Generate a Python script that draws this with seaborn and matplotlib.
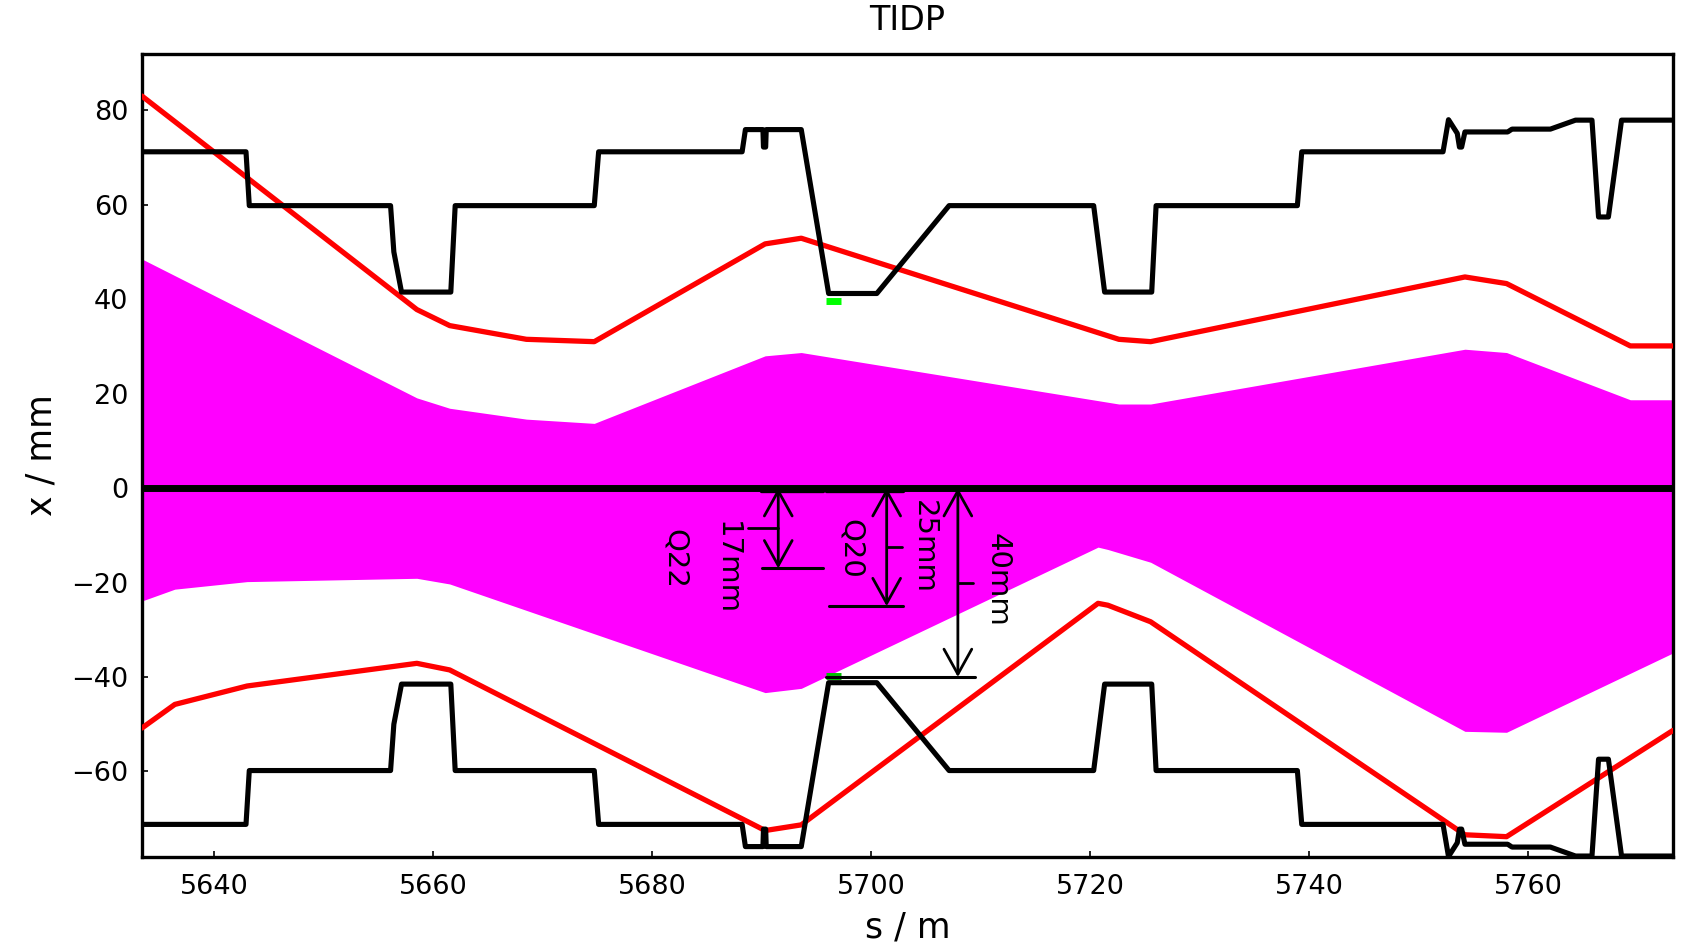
import numpy as np
import matplotlib
matplotlib.use("Agg")
import matplotlib.pyplot as plt
import seaborn as sns

# ---- beam envelope data (s in m, x in mm) ----
# upper side of the beam (red = tolerance envelope, magenta = beam size)
s_upper = [5633.4, 5658.5, 5661.5, 5668.5, 5674.7, 5690.3, 5693.6,
           5722.6, 5725.5, 5754.2, 5758.0, 5769.3, 5773.2]
env_upper = [83.0, 37.8, 34.4, 31.5, 31.0, 51.7, 52.9,
             31.5, 31.0, 44.7, 43.3, 30.1, 30.1]
beam_upper = [48.5, 19.1, 16.9, 14.6, 13.7, 28.0, 28.7,
              17.8, 17.8, 29.4, 28.7, 18.7, 18.7]

# lower side of the beam
s_lower = [5633.4, 5636.4, 5643.0, 5658.5, 5661.5, 5690.3, 5693.6,
           5720.7, 5721.6, 5725.5, 5754.2, 5758.0, 5773.2]
env_lower = [-50.8, -45.8, -41.9, -37.1, -38.5, -72.5, -71.3,
             -24.4, -24.8, -28.3, -73.4, -73.8, -51.3]
beam_lower = [-23.9, -21.4, -19.8, -19.1, -20.3, -43.3, -42.4,
              -12.5, -13.0, -15.7, -51.5, -51.7, -34.9]

# ---- mechanical aperture (symmetric chamber, half-width in mm) ----
s_aper = [5633.4, 5642.9, 5643.2, 5656.1, 5656.4, 5657.1, 5661.6, 5662.0,
          5674.7, 5675.1, 5688.2, 5688.5, 5690.1, 5690.15, 5690.35, 5690.4,
          5693.6, 5696.1, 5700.5, 5707.1, 5720.3, 5721.3, 5725.6, 5726.0,
          5738.9, 5739.3, 5752.2, 5752.7, 5753.5, 5753.7, 5753.9, 5754.2,
          5758.1, 5758.5, 5762.0, 5764.3, 5765.8, 5766.4, 5767.3, 5768.5,
          5773.2]
aper = [71.2, 71.2, 59.8, 59.8, 50.0, 41.5, 41.5, 59.8,
        59.8, 71.2, 71.2, 75.9, 75.9, 72.2, 72.2, 75.9,
        75.9, 41.2, 41.2, 59.8, 59.8, 41.5, 41.5, 59.8,
        59.8, 71.2, 71.2, 78.0, 75.1, 72.2, 72.2, 75.4,
        75.4, 76.0, 76.0, 77.9, 77.9, 57.4, 57.4, 77.9,
        77.9]

# ---- collimator jaw markers ----
s_jaw = [5695.9, 5697.2]
jaw_half_gap = 39.7

# ---- dimension annotations ----
gap_values = [17, 25, 40]            # half gaps in mm
gap_labels = ["17mm", "25mm", "40mm"]
quad_labels = ["Q22", "Q20"]

x_ticks = [5640, 5660, 5680, 5700, 5720, 5740, 5760]
y_ticks = [-60, -40, -20, 0, 20, 40, 60, 80]

sns.set_theme(style="ticks", rc={
    "xtick.direction": "in",
    "ytick.direction": "in",
    "axes.linewidth": 2.4,
    "axes.edgecolor": "black",
    "axes.labelcolor": "black",
    "text.color": "black",
    "xtick.color": "black",
    "ytick.color": "black",
    "xtick.major.size": 4.5,
    "ytick.major.size": 4.5,
    "xtick.major.width": 1.2,
    "ytick.major.width": 1.2,
})
plt.rcParams["font.family"] = ["DejaVu Sans"]

fig = plt.figure(figsize=(16.86, 9.46), dpi=100)
ax = fig.add_axes([0.0842, 0.0941, 0.9081, 0.8488])

# beam size (filled)
ax.fill_between(s_upper, 0, beam_upper, color="#ff00ff", linewidth=0, zorder=1)
ax.fill_between(s_lower, beam_lower, 0, color="#ff00ff", linewidth=0, zorder=1)

# tolerance envelopes
sns.lineplot(x=s_upper, y=env_upper, ax=ax, color="#ff0000", lw=3.8,
             estimator=None, sort=False, zorder=3)
sns.lineplot(x=s_lower, y=env_lower, ax=ax, color="#ff0000", lw=3.8,
             estimator=None, sort=False, zorder=3)

# aperture
aper_arr = np.asarray(aper)
sns.lineplot(x=s_aper, y=aper_arr, ax=ax, color="black", lw=3.7,
             estimator=None, sort=False, zorder=4)
sns.lineplot(x=s_aper, y=-aper_arr, ax=ax, color="black", lw=3.7,
             estimator=None, sort=False, zorder=4)

# closed orbit
ax.axhline(0, color="black", lw=5, zorder=5)

# collimator jaws
sns.lineplot(x=s_jaw, y=[jaw_half_gap, jaw_half_gap], ax=ax, color="#00ff00",
             lw=5, estimator=None, sort=False, zorder=3.5,
             solid_capstyle="butt")
sns.lineplot(x=s_jaw, y=[-jaw_half_gap, -jaw_half_gap], ax=ax, color="#00c000",
             lw=5, estimator=None, sort=False, zorder=3.5,
             solid_capstyle="butt")

# dimension arrows
arrow_x = [5691.5, 5701.4, 5707.9]
bar_spans = [(5690.0, 5695.6), (5696.1, 5702.9), (5695.9, 5709.5)]
top_spans = [(5689.9, 5695.6), (5695.9, 5702.9)]
mid_ticks = [(5688.7, 5691.5), (5701.4, 5702.8), (5707.9, 5709.3)]
for xa, g, (b0, b1), (m0, m1) in zip(arrow_x, gap_values, bar_spans, mid_ticks):
    ax.annotate("", xy=(xa, -g), xytext=(xa, 0),
                arrowprops=dict(arrowstyle="<->, head_length=0.9, head_width=0.5",
                                lw=2, color="black", shrinkA=0, shrinkB=0,
                                mutation_scale=20),
                zorder=6)
    ax.plot([b0, b1], [-g, -g], color="black", lw=2.2, zorder=6)
    ax.plot([m0, m1], [-g / 2, -g / 2], color="black", lw=2, zorder=6)
for t0, t1 in top_spans:
    ax.plot([t0, t1], [-0.7, -0.7], color="black", lw=2.4, zorder=6)

gap_text_pos = [(5686.8, -17.0), (5704.8, -12.4), (5711.5, -19.5)]
quad_text_pos = [(5682.1, -14.9), (5698.1, -12.8)]
for (tx, ty), lab in zip(gap_text_pos, gap_labels):
    ax.text(tx, ty, lab, rotation=270, ha="center", va="center",
            fontsize=21, color="black", zorder=7)
for (tx, ty), lab in zip(quad_text_pos, quad_labels):
    ax.text(tx, ty, lab, rotation=270, ha="center", va="center",
            fontsize=21, color="black", zorder=7)

ax.set_xlim(5633.4, 5773.2)
ax.set_ylim(-78.1, 91.9)
ax.set_xticks(x_ticks)
ax.set_yticks(y_ticks)
ax.tick_params(axis="both", labelsize=19.5, top=False, right=False,
               colors="black")
ax.tick_params(axis="x", pad=12)
ax.tick_params(axis="y", pad=10)
for sp in ax.spines.values():
    sp.set_visible(True)
    sp.set_linewidth(2.4)
    sp.set_color("black")

ax.set_title("TIDP", fontsize=24, pad=17, color="black")
ax.set_xlabel("s / m", fontsize=25, labelpad=8, color="black")
ax.set_ylabel("x / mm", fontsize=25, labelpad=9, color="black")

fig.savefig("out.png", dpi=100, facecolor="white")
